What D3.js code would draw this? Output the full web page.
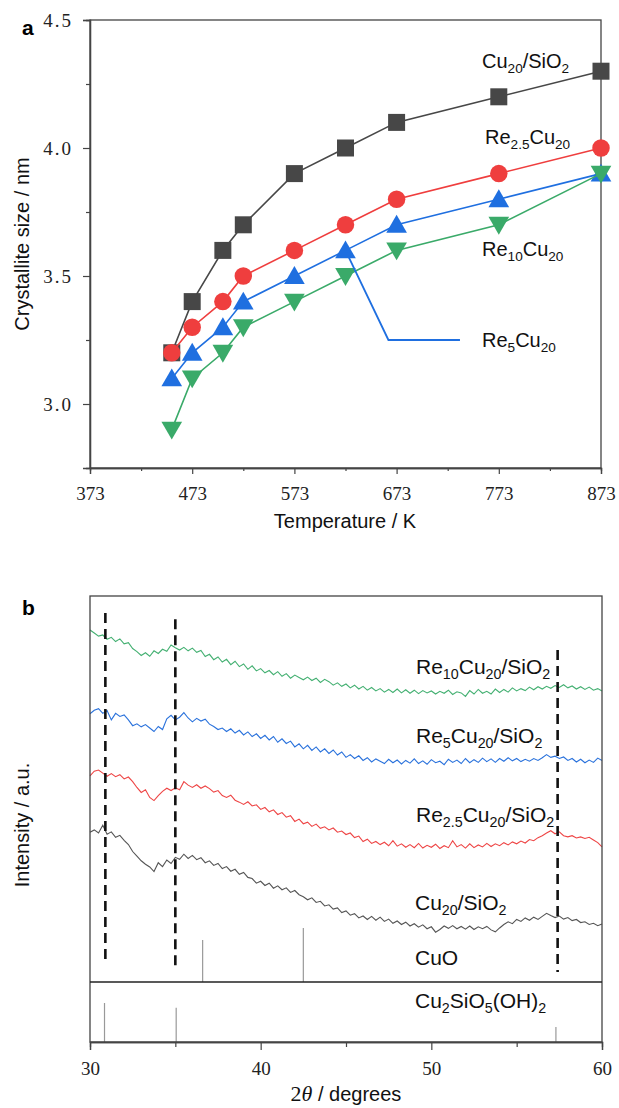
<!DOCTYPE html>
<html>
<head>
<meta charset="utf-8">
<script src="https://cdn.jsdelivr.net/npm/d3@7"></script>
<style>
  body { margin: 0; background: #fff; }
  svg { display: block; }
  .tick text { font-family: "Liberation Serif", "DejaVu Serif", serif; fill: #222; }
</style>
</head>
<body>
<svg id="chart" width="619" height="1108"></svg>
<script>
// ---- panel a: crystallite size vs temperature
const temps = [453, 473, 503, 523, 573, 623, 673, 773, 873];
const cuSize = [3.2, 3.4, 3.6, 3.7, 3.9, 4.0, 4.1, 4.2, 4.3];
const re25Size = [3.2, 3.3, 3.4, 3.5, 3.6, 3.7, 3.8, 3.9, 4.0];
const re5Size = [3.1, 3.2, 3.3, 3.4, 3.5, 3.6, 3.7, 3.8, 3.9];
const re10Size = [2.9, 3.1, 3.2, 3.3, 3.4, 3.5, 3.6, 3.7, 3.9];
const tempTicks = [373, 473, 573, 673, 773, 873];
const tempMinor = [423, 523, 623, 723, 823];
const sizeTicks = [3.0, 3.5, 4.0, 4.5];
const sizeMinor = [3.25, 3.75, 4.25];
const re5Leader = [[623, 3.6], [665, 3.25], [735, 3.25]];

// ---- panel b: XRD patterns (a.u.), 2theta 30..60 step 0.25
const theta = d3.range(0, 121).map(i => 30 + i * 0.25);
const xrdRe10 = [91.2, 90.4, 89.6, 89.9, 88.8, 89.3, 88.2, 88.9, 87.6, 87.9,
  86.4, 85.6, 84.6, 85.3, 84.4, 85.8, 85.1, 86.2, 85.7, 87.3,
  86.6, 86.0, 86.7, 85.8, 86.5, 85.4, 85.9, 84.3, 84.9, 83.5,
  84.2, 82.9, 83.6, 82.2, 83.1, 81.7, 82.4, 81.0, 81.9, 80.6,
  81.2, 80.1, 80.7, 79.6, 80.4, 79.2, 79.9, 78.7, 79.5, 78.9,
  78.3, 79.0, 78.1, 78.7, 77.6, 78.4, 77.8, 76.9, 77.5, 76.6,
  77.2, 76.2, 76.9, 75.9, 76.6, 75.6, 76.3, 75.4, 76.0, 75.1,
  75.8, 75.0, 75.9, 74.9, 75.7, 74.8, 75.6, 74.7, 75.5, 74.9,
  75.4, 74.6, 75.3, 74.8, 75.6, 74.5, 75.2, 74.9, 74.0, 75.5,
  74.6, 75.8, 74.8, 75.3, 74.6, 75.9, 75.0, 75.8, 75.1, 76.2,
  75.4, 76.0, 75.5, 76.4, 75.7, 76.5, 75.9, 76.6, 76.1, 76.8,
  76.3, 77.0, 76.2, 76.7, 75.9, 76.5, 75.8, 76.4, 75.6, 76.0,
  75.4];
const xrdRe5 = [69.5, 70.4, 70.8, 69.6, 70.3, 67.9, 69.6, 68.8, 69.2, 67.9,
  66.4, 66.9, 66.1, 66.7, 65.8, 64.9, 66.2, 65.4, 68.2, 69.1,
  67.9, 68.6, 69.8, 68.4, 67.4, 68.3, 67.6, 68.1, 66.8, 66.2,
  65.4, 65.8, 64.9, 65.6, 64.5, 65.2, 64.0, 64.8, 63.6, 64.3,
  63.1, 63.9, 62.7, 63.6, 62.1, 63.0, 61.8, 62.4, 60.9, 61.7,
  60.4, 61.3, 60.0, 60.9, 59.6, 60.4, 59.2, 60.1, 58.8, 59.6,
  58.2, 58.9, 57.9, 58.6, 57.4, 58.1, 57.0, 57.8, 57.2, 56.6,
  57.7, 56.8, 57.5, 56.5, 57.4, 56.7, 57.8, 56.6, 57.3, 56.4,
  57.6, 56.8, 57.2, 56.3, 57.7, 56.9, 57.5, 56.6, 57.9, 56.8,
  57.6, 56.9, 58.0, 57.1, 57.8, 56.9, 57.9, 57.2, 58.1, 57.3,
  57.9, 57.1, 57.7, 57.2, 57.9, 57.4, 58.1, 58.9, 58.2, 58.5,
  57.9, 58.3, 57.4, 57.9, 57.0, 57.7, 56.8, 57.5, 56.9, 58.0,
  57.4];
const xrdRe25 = [53.4, 54.6, 54.9, 54.1, 53.3, 54.0, 53.2, 53.7, 52.6, 53.1,
  51.9, 50.4, 49.1, 49.8, 47.8, 47.0, 48.3, 49.4, 50.2, 49.6,
  50.3, 49.8, 51.9, 51.0, 50.4, 51.1, 50.2, 50.8, 50.1, 49.2,
  49.6, 48.3, 47.8, 48.4, 47.1, 46.6, 46.0, 46.7, 45.6, 45.9,
  44.7, 45.2, 44.1, 44.6, 43.4, 43.9, 42.7, 43.1, 41.6, 42.2,
  41.0, 41.4, 40.3, 40.9, 39.8, 40.2, 39.4, 39.9, 38.8, 39.1,
  38.2, 38.6, 37.4, 37.8, 36.4, 37.0, 35.9, 36.4, 35.6, 36.2,
  35.3, 36.6, 35.2, 35.8, 34.9, 35.6, 34.8, 35.9, 34.7, 35.4,
  34.9, 35.7, 34.6, 35.3, 34.8, 36.6, 35.0, 35.6, 34.7, 35.8,
  34.8, 35.5, 35.0, 35.9, 35.1, 35.8, 35.3, 36.1, 35.5, 36.3,
  35.8, 36.5, 36.0, 36.9, 36.6, 37.4, 37.9, 38.6, 39.2, 38.4,
  38.9, 37.9, 37.6, 37.9, 37.3, 37.6, 37.2, 37.5, 36.8, 36.1,
  35.0];
const xrdCu = [38.8, 39.4, 38.6, 40.6, 38.3, 38.9, 37.5, 38.0, 36.7, 35.6,
  33.8, 32.6, 31.4, 30.5, 29.8, 28.6, 30.9, 29.9, 31.6, 30.7,
  32.3, 31.8, 33.1, 32.0, 32.8, 31.7, 32.2, 30.9, 31.4, 30.2,
  30.7, 29.4, 29.9, 28.7, 29.2, 27.9, 28.4, 27.1, 26.8, 25.6,
  26.1, 25.0, 25.6, 24.3, 24.9, 23.9, 24.4, 23.2, 23.7, 22.6,
  22.1, 21.3, 21.8, 20.6, 20.9, 19.7, 20.0, 18.9, 19.2, 18.0,
  18.4, 17.3, 17.7, 16.6, 17.1, 16.2, 17.0, 16.0, 16.8, 15.7,
  16.3, 15.2, 15.8, 14.9, 15.5, 14.5, 15.1, 14.2, 14.8, 13.8,
  14.3, 12.9, 13.6, 14.5, 13.9, 14.6, 13.8, 14.4, 13.7, 14.5,
  13.6, 14.3, 13.8, 14.4, 13.5, 13.0, 14.0, 14.9, 15.6, 15.1,
  16.2, 15.7, 16.6, 16.0, 16.8, 16.2, 17.0, 17.8, 17.2, 16.7,
  17.1, 16.3, 16.7, 15.9, 16.2, 15.4, 15.6, 14.9, 15.2, 14.6,
  15.0];
const cuoPeaks = [36.6, 42.5];
const cuoInt = [10.9, 14.0];
const silPeaks = [30.85, 35.05, 57.3];
const silInt = [65, 57, 25];
const dashPeaks = [30.9, 35.0, 57.4];
const thetaTicks = [30, 40, 50, 60];
const thetaMinor = [35, 45, 55];

const svg = d3.select("#chart");
const sans = "'Liberation Sans', Arial, sans-serif";
const frame = "#444";

// rich label: array of [text, "sub"|""]
function richText(g, x, y, parts, size) {
  const t = g.append("text").attr("x", x).attr("y", y)
    .style("font-family", sans).style("font-size", size + "px").attr("fill", "#111");
  let shifted = false;
  parts.forEach(p => {
    const isSub = p[1] === "sub";
    let dy = 0;
    if (isSub && !shifted) dy = 5;
    if (!isSub && shifted) dy = -5;
    shifted = isSub;
    t.append("tspan").text(p[0])
      .attr("dy", dy)
      .style("font-size", isSub ? (size * 0.68) + "px" : null);
  });
  return t;
}
const dropText = g => g.selectAll("text").remove();

// ================= panel a
const xA = d3.scaleLinear().domain([373, 873]).range([90, 601]);
const yA = d3.scaleLinear().domain([2.75, 4.5]).range([468, 20]);
const gA = svg.append("g");

gA.append("rect").attr("x", 90).attr("y", 20).attr("width", 511).attr("height", 448)
  .attr("fill", "none").attr("stroke", frame).attr("stroke-width", 1.3);

gA.append("g").attr("transform", "translate(0,468)")
  .call(d3.axisBottom(xA).tickValues(tempTicks).tickSize(6).tickPadding(13));
gA.append("g").attr("transform", "translate(0,468)")
  .call(d3.axisBottom(xA).tickValues(tempMinor).tickSize(3)).call(dropText);
const ayA = gA.append("g").attr("transform", "translate(90,0)")
  .call(d3.axisLeft(yA).tickValues(sizeTicks).tickSize(7).tickPadding(10).tickFormat(d3.format(".1f")));
gA.append("g").attr("transform", "translate(90,0)")
  .call(d3.axisLeft(yA).tickValues(sizeMinor).tickSize(4)).call(dropText);
gA.selectAll(".domain").attr("stroke", frame).attr("stroke-width", 1.3);
gA.selectAll(".tick line").attr("stroke", frame).attr("stroke-width", 1.2);
gA.selectAll(".tick text").style("font-size", "19px");
ayA.selectAll(".tick text").attr("dy", "0.35em").style("letter-spacing", "2px");

const seriesA = [
  { vals: cuSize, color: "#474747", shape: d3.symbolSquare, size: 289, rot: 0 },
  { vals: re25Size, color: "#ef3e3e", shape: d3.symbolCircle, size: 240, rot: 0 },
  { vals: re5Size, color: "#1f6fe0", shape: d3.symbolTriangle, size: 185, rot: 0 },
  { vals: re10Size, color: "#3aaa69", shape: d3.symbolTriangle, size: 185, rot: 180 }
];
const lineA = d3.line().x(d => xA(d[0])).y(d => yA(d[1]));
seriesA.forEach(s => {
  const pts = temps.map((t, i) => [t, s.vals[i]]);
  gA.append("path").datum(pts).attr("d", lineA)
    .attr("fill", "none").attr("stroke", s.color).attr("stroke-width", 1.6);
  gA.append("g").selectAll("path").data(pts).enter().append("path")
    .attr("d", d3.symbol().type(s.shape).size(s.size))
    .attr("transform", d => `translate(${xA(d[0])},${yA(d[1]) + (s.shape === d3.symbolTriangle ? (s.rot ? -2 : 2) : 0)}) rotate(${s.rot})`)
    .attr("fill", s.color);
});
gA.append("path").datum(re5Leader).attr("d", lineA)
  .attr("fill", "none").attr("stroke", "#1f6fe0").attr("stroke-width", 1.8);

richText(gA, 482, 68, [["Cu", ""], ["20", "sub"], ["/SiO", ""], ["2", "sub"]], 20);
richText(gA, 485, 144, [["Re", ""], ["2.5", "sub"], ["Cu", ""], ["20", "sub"]], 20);
richText(gA, 482, 256, [["Re", ""], ["10", "sub"], ["Cu", ""], ["20", "sub"]], 20);
richText(gA, 482, 347, [["Re", ""], ["5", "sub"], ["Cu", ""], ["20", "sub"]], 20);

gA.append("text").attr("x", 345).attr("y", 528).attr("text-anchor", "middle")
  .style("font-family", sans).style("font-size", "20px").attr("fill", "#111")
  .text("Temperature / K");
gA.append("text").attr("transform", "translate(29,244) rotate(-90)").attr("text-anchor", "middle")
  .style("font-family", sans).style("font-size", "20px").attr("fill", "#111")
  .text("Crystallite size / nm");
gA.append("text").attr("x", 22).attr("y", 35)
  .style("font-family", sans).style("font-size", "21px").style("font-weight", "bold").text("a");

// ================= panel b
const xB = d3.scaleLinear().domain([30, 60]).range([90, 602]);
const yU = d3.scaleLinear().domain([0, 100]).range([982, 596]);
const yL = d3.scaleLinear().domain([0, 100]).range([1042, 982]);
const gB = svg.append("g");

const xrdSeries = [
  { vals: xrdRe10, color: "#44b072" },
  { vals: xrdRe5, color: "#2a72dc" },
  { vals: xrdRe25, color: "#ee4545" },
  { vals: xrdCu, color: "#555555" }
];
const lineB = d3.line().x(d => xB(d[0])).y(d => yU(d[1]));
xrdSeries.forEach(s => {
  gB.append("path").datum(theta.map((t, i) => [t, s.vals[i]])).attr("d", lineB)
    .attr("fill", "none").attr("stroke", s.color).attr("stroke-width", 1.1);
});

// reference sticks
gB.append("g").selectAll("line").data(cuoPeaks).enter().append("line")
  .attr("x1", d => xB(d)).attr("x2", d => xB(d))
  .attr("y1", yU(0)).attr("y2", (d, i) => yU(cuoInt[i]))
  .attr("stroke", "#999").attr("stroke-width", 1.2);
gB.append("g").selectAll("line").data(silPeaks).enter().append("line")
  .attr("x1", d => xB(d)).attr("x2", d => xB(d))
  .attr("y1", yL(0)).attr("y2", (d, i) => yL(silInt[i]))
  .attr("stroke", "#999").attr("stroke-width", 1.2);

// dashed guide lines
const dashTop = [95.6, 94.0, 86.0], dashBot = [5.4, 3.9, 2.6];
gB.append("g").selectAll("line").data(dashPeaks).enter().append("line")
  .attr("x1", d => xB(d)).attr("x2", d => xB(d))
  .attr("y1", (d, i) => yU(dashTop[i])).attr("y2", (d, i) => yU(dashBot[i]))
  .attr("stroke", "#111").attr("stroke-width", 2.6).attr("stroke-dasharray", "10,6");

gB.append("rect").attr("x", 90).attr("y", 596).attr("width", 512).attr("height", 446)
  .attr("fill", "none").attr("stroke", frame).attr("stroke-width", 1.3);
gB.append("line").attr("x1", 90).attr("x2", 602).attr("y1", 982).attr("y2", 982)
  .attr("stroke", "#222").attr("stroke-width", 1.4);

gB.append("g").attr("transform", "translate(0,1042)")
  .call(d3.axisBottom(xB).tickValues(thetaTicks).tickSize(8).tickPadding(12));
gB.append("g").attr("transform", "translate(0,1042)")
  .call(d3.axisBottom(xB).tickValues(thetaMinor).tickSize(5)).call(dropText);
gB.selectAll(".domain").attr("stroke", frame).attr("stroke-width", 1.3);
gB.selectAll(".tick line").attr("stroke", frame).attr("stroke-width", 1.2);
gB.selectAll(".tick text").style("font-size", "19px");

richText(gB, 416, 674, [["Re", ""], ["10", "sub"], ["Cu", ""], ["20", "sub"], ["/SiO", ""], ["2", "sub"]], 21);
richText(gB, 416, 743, [["Re", ""], ["5", "sub"], ["Cu", ""], ["20", "sub"], ["/SiO", ""], ["2", "sub"]], 21);
richText(gB, 416, 822, [["Re", ""], ["2.5", "sub"], ["Cu", ""], ["20", "sub"], ["/SiO", ""], ["2", "sub"]], 21);
richText(gB, 415, 910, [["Cu", ""], ["20", "sub"], ["/SiO", ""], ["2", "sub"]], 21);
richText(gB, 415, 965, [["CuO", ""]], 21);
richText(gB, 415, 1008, [["Cu", ""], ["2", "sub"], ["SiO", ""], ["5", "sub"], ["(OH)", ""], ["2", "sub"]], 21);

const xt = gB.append("text").attr("x", 346).attr("y", 1101).attr("text-anchor", "middle")
  .style("font-family", sans).style("font-size", "20px").attr("fill", "#111");
xt.append("tspan").text("2").style("font-family", "'Liberation Serif', serif").style("font-size", "22px");
xt.append("tspan").text("\u03b8").style("font-family", "'Liberation Serif', serif")
  .style("font-style", "italic").style("font-size", "22px");
xt.append("tspan").text(" / degrees");

gB.append("text").attr("transform", "translate(29,825) rotate(-90)").attr("text-anchor", "middle")
  .style("font-family", sans).style("font-size", "20px").attr("fill", "#111")
  .text("Intensity / a.u.");
gB.append("text").attr("x", 22).attr("y", 615)
  .style("font-family", sans).style("font-size", "21px").style("font-weight", "bold").text("b");
</script>
</body>
</html>
